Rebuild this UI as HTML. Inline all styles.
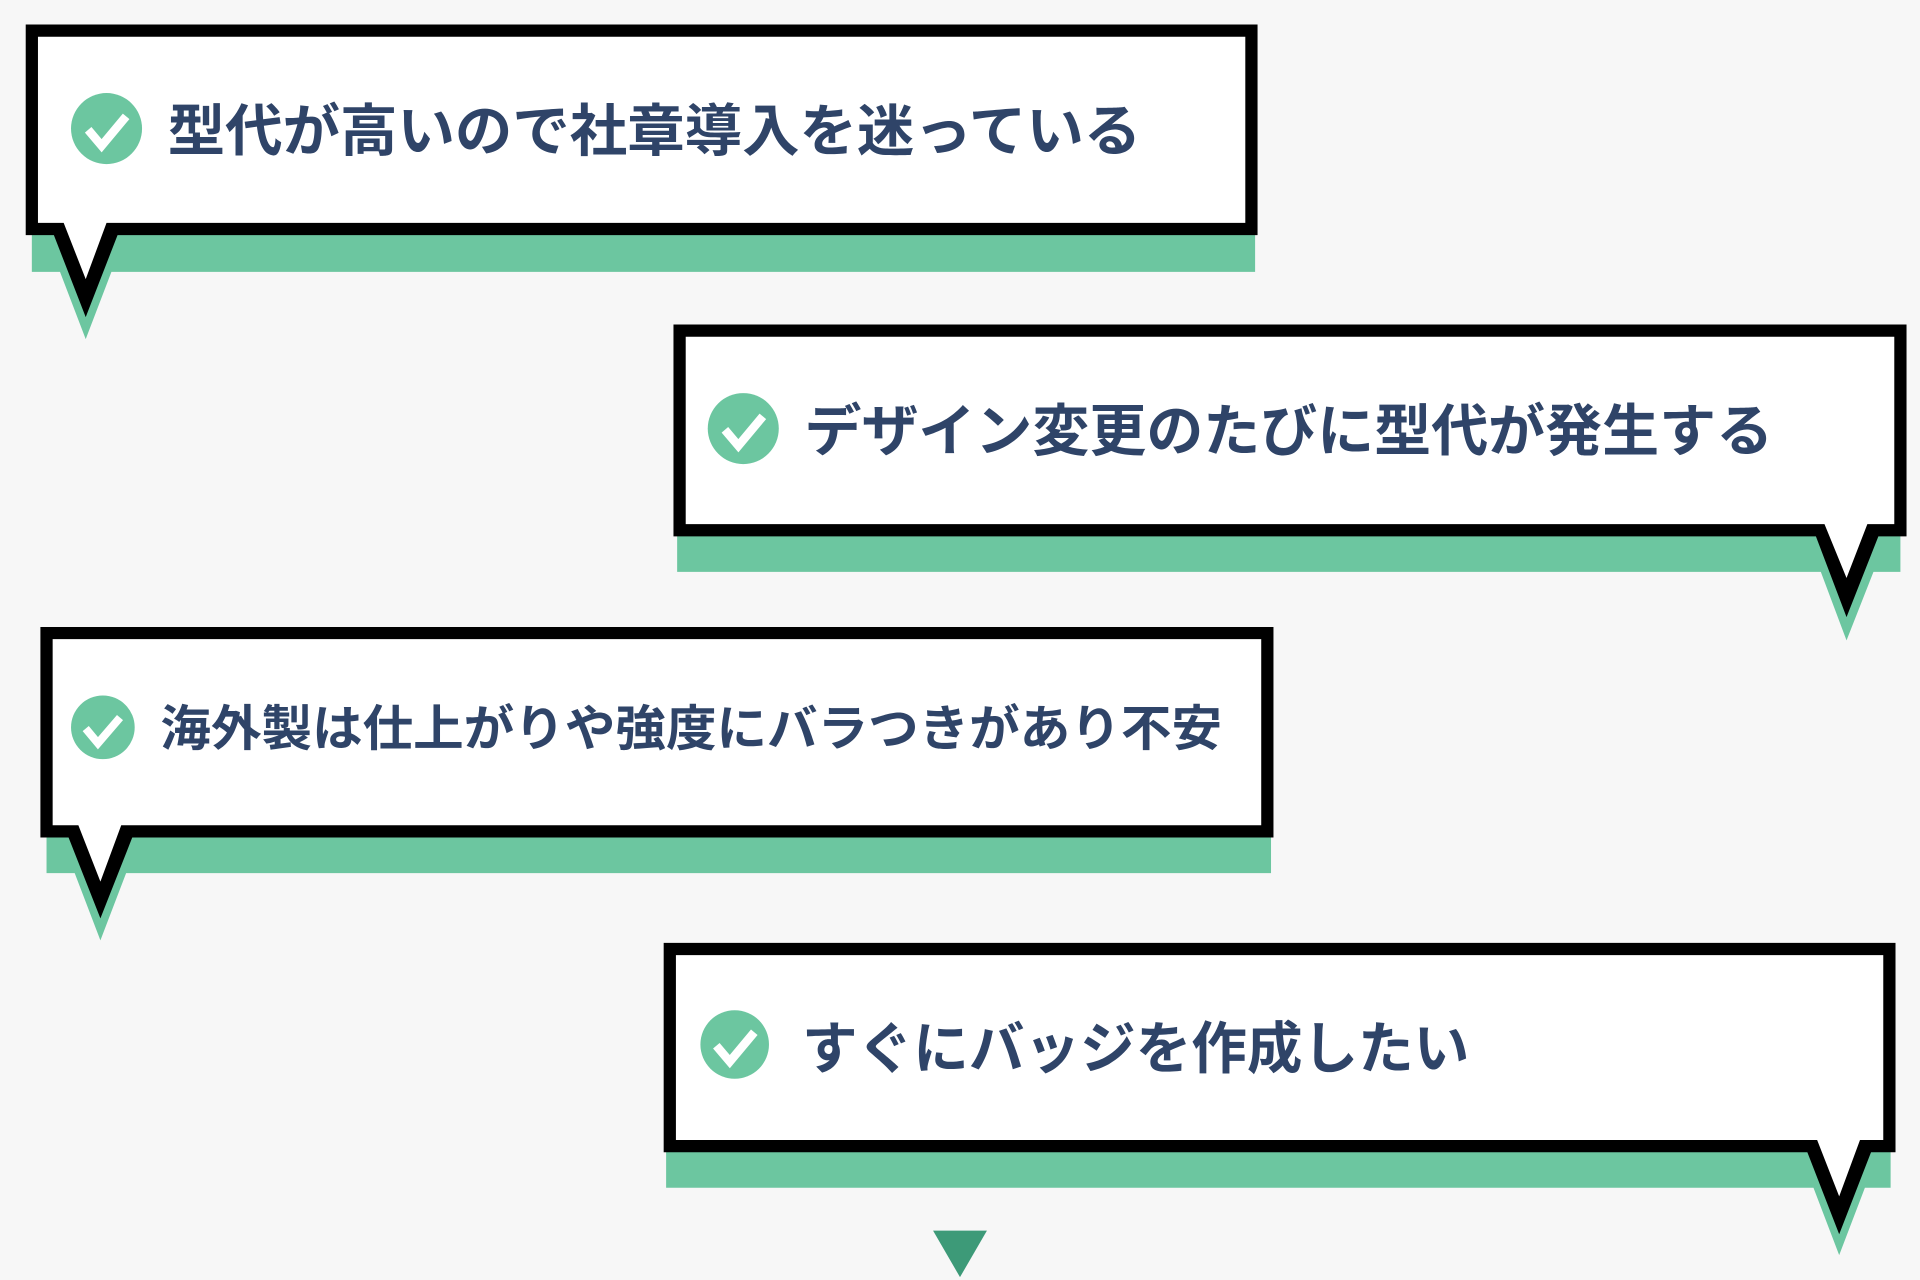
<!DOCTYPE html>
<html><head><meta charset="utf-8"><style>
html,body{margin:0;padding:0;background:#f7f7f7;width:1920px;height:1280px;overflow:hidden}
svg{display:block}
text{font-family:"Liberation Sans","Noto Sans CJK JP",sans-serif;font-weight:bold;fill:#2f4468}
</style></head><body>
<svg width="1920" height="1280" viewBox="0 0 1568 1045.33" preserveAspectRatio="none" xmlns="http://www.w3.org/2000/svg">
<rect width="1568" height="1046" fill="#f7f7f7"/>
<!-- Bubble 1 -->
<polygon fill="#6cc6a0" points="26,185 1025,185 1025,222 91,222 70,277 49,222 26,222"/>
<polygon fill="#000" points="21,20 1027,20 1027,192 96,192 70,259 44,192 21,192"/>
<polygon fill="#fff" points="31,30 1017,30 1017,182 87,182 70,228 52,182 31,182"/>
<circle cx="87" cy="105" r="29" fill="#6cc6a0"/>
<polyline points="72,106 83,119 103,95" fill="none" stroke="#fff" stroke-width="7"/>
<text x="137" y="123" font-size="46" textLength="795" lengthAdjust="spacingAndGlyphs">型代が高いので社章導入を迷っている</text>
<!-- Bubble 2 -->
<polygon fill="#6cc6a0" points="553,430 1552,430 1552,467 1530,467 1508,523 1487,467 553,467"/>
<polygon fill="#000" points="550,265 1557,265 1557,438 1534,438 1508,504 1483,438 550,438"/>
<polygon fill="#fff" points="560,275 1547,275 1547,428 1525,428 1508,472 1490,428 560,428"/>
<circle cx="607" cy="350" r="29" fill="#6cc6a0"/>
<polyline points="592,351 603,364 623,340" fill="none" stroke="#fff" stroke-width="7"/>
<text x="657" y="368" font-size="46" textLength="791" lengthAdjust="spacingAndGlyphs">デザイン変更のたびに型代が発生する</text>
<!-- Bubble 3 -->
<polygon fill="#6cc6a0" points="38,676 1038,676 1038,713 103,713 82,768 61,713 38,713"/>
<polygon fill="#000" points="33,512 1040,512 1040,684 108,684 82,750 56,684 33,684"/>
<polygon fill="#fff" points="43,522 1030,522 1030,674 99,674 82,720 64,674 43,674"/>
<circle cx="84" cy="594" r="26" fill="#6cc6a0"/>
<polyline points="70,595 80,607 98,586" fill="none" stroke="#fff" stroke-width="6.5"/>
<text x="131" y="609" font-size="40" textLength="867" lengthAdjust="spacingAndGlyphs">海外製は仕上がりや強度にバラつきがあり不安</text>
<!-- Bubble 4 -->
<polygon fill="#6cc6a0" points="544,933 1544,933 1544,970 1523,970 1502,1025 1481,970 544,970"/>
<polygon fill="#000" points="542,770 1548,770 1548,941 1528,941 1502,1008 1476,941 542,941"/>
<polygon fill="#fff" points="552,780 1538,780 1538,931 1519,931 1502,977 1484,931 552,931"/>
<circle cx="600" cy="853" r="28" fill="#6cc6a0"/>
<polyline points="585,854 596,867 616,843" fill="none" stroke="#fff" stroke-width="7"/>
<text x="655" y="872" font-size="46" textLength="545" lengthAdjust="spacingAndGlyphs">すぐにバッジを作成したい</text>
<!-- bottom arrow -->
<polygon fill="#3d9a78" points="762,1005 806,1005 784,1043"/>
</svg>
</body></html>
